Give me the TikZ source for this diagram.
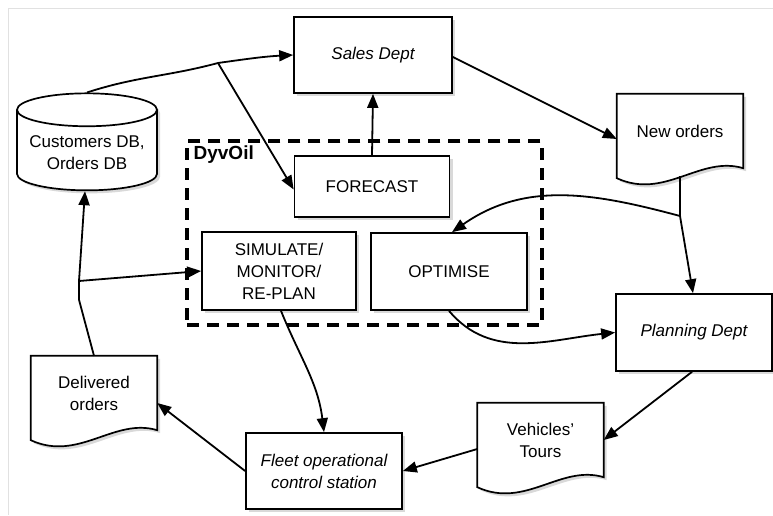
\documentclass[tikz,border=0pt]{standalone}
\usepackage{fontspec}
\setmainfont{Liberation Sans}
\usepackage{tikz}
\usetikzlibrary{positioning, arrows.meta, calc, shapes, shadows, fit, backgrounds}
\definecolor{framecolor}{RGB}{225, 225, 225}
\definecolor{shadowcolor}{RGB}{170, 170, 170}

% outline of a document shape (wavy bottom) around a named node
\newcommand{\docoutline}[1]{%
    \draw[docline] (#1.north west) -- (#1.north east) -- (#1.south east)
        .. controls ($(#1.south east)+(-43,13)$) and ($(#1.south west)+(48,-32)$)
        .. ($(#1.south west)+(0,-10)$) -- cycle;}

\begin{document}
\begin{tikzpicture}[
    x=1pt, y=1pt,
    txt/.style={font=\fontsize{17}{22}\selectfont},
    shade/.style={drop shadow={shadow xshift=3pt, shadow yshift=-3pt, fill=shadowcolor, opacity=0.45}},
    box/.style={rectangle, draw, line width=1.7pt, fill=white, align=center, txt, shade},
    doc/.style={rectangle, minimum width=126pt, minimum height=74pt, inner sep=0pt, align=center, txt},
    docline/.style={line width=1.7pt, fill=white, shade},
    dyvbox/.style={rectangle, draw, line width=3.4pt, dash pattern=on 12pt off 8pt},
    arrow/.style={-{Triangle[length=14pt, width=11pt]}, line width=1.8pt},
    link/.style={line width=1.8pt},
]
\useasboundingbox (0,0) rectangle (773,515);

% Frame
\draw[framecolor, line width=0.8pt] (8,0) -- (8,507) -- (773,507);

% Departments and stations
\node[box, minimum width=158pt, minimum height=76pt, font=\fontsize{17}{22}\selectfont\itshape] (sales) at (373,460) {Sales Dept};
\node[box, minimum width=156pt, minimum height=77pt, font=\fontsize{17}{22}\selectfont\itshape] (planning) at (694,182.5) {Planning Dept};
\node[box, minimum width=156pt, minimum height=76pt, font=\fontsize{17}{22}\selectfont\itshape] (fleet) at (324,44) {Fleet operational\\control station};

% DyvOil modules
\node[box, minimum width=155pt, minimum height=61pt] (forecast) at (372,328.5) {FORECAST};
\node[box, minimum width=154pt, minimum height=78pt] (simulate) at (279,244) {SIMULATE/\\MONITOR/\\RE-PLAN};
\node[box, minimum width=156pt, minimum height=77pt] (optimise) at (449,243.5) {OPTIMISE};
\node[dyvbox, fit=(forecast)(simulate)(optimise), inner sep=14pt] (dyvoil) {};
\node[anchor=north west, inner sep=0pt, font=\fontsize{19}{22}\selectfont\bfseries] (dyvlabel)
    at ([xshift=8pt, yshift=-6pt]dyvoil.north west) {DyvOil};

% Database
\node[cylinder, shape border rotate=90, aspect=0.27, draw, line width=1.7pt, fill=white, shade,
    minimum width=140pt, minimum height=97pt, align=center, txt] (db) at (87,362) {Customers DB,\\Orders DB};

% Documents
\node[doc] (neworders) at (680,384) {New orders};
\node[doc] (delivered) at (94,122) {Delivered\\orders};
\node[doc] (tours) at (540.5,75) {Vehicles\symbol{39}\\Tours};
\begin{pgfonlayer}{background}
    \docoutline{neworders}
    \docoutline{delivered}
    \docoutline{tours}
\end{pgfonlayer}

% Junctions
\coordinate (j1) at (218,452);
\coordinate (j2) at (680,299);
\coordinate (j3) at (79,234);

% Arrows
\draw[link] (db.north) to[out=18, in=195] (j1);
\draw[arrow] (j1) to[out=8, in=183] (sales.west);
\draw[arrow] (j1) -- ([yshift=-3pt]forecast.west);
\draw[arrow] (forecast.north) -- (sales.south);
\draw[arrow] ([yshift=-2pt]sales.east) -- ([yshift=-8pt]neworders.west);
\draw[link] ([yshift=-8pt]neworders.south) -- (j2);
\draw[arrow] (j2) -- ([xshift=-1pt]planning.north);
\draw[arrow] (j2) to[out=165, in=35] ([xshift=3pt]optimise.north);
\draw[arrow] (optimise.south) to[out=-50, in=186] (planning.west);
\draw[arrow] ([xshift=-2pt]planning.south) -- (tours.east);
\draw[arrow] ([yshift=-9pt]tours.west) -- (fleet.east);
\draw[arrow] (fleet.west) -- ([yshift=-10pt]delivered.east);
\draw[arrow] ([xshift=2pt]simulate.south) to[out=-68, in=97] (fleet.north);
\draw[arrow] (delivered.north) -- ++(-15,56) -- (j3) -- ([xshift=-2pt]db.south);
\draw[arrow] (j3) -- (simulate.west);

\end{tikzpicture}
\end{document}
